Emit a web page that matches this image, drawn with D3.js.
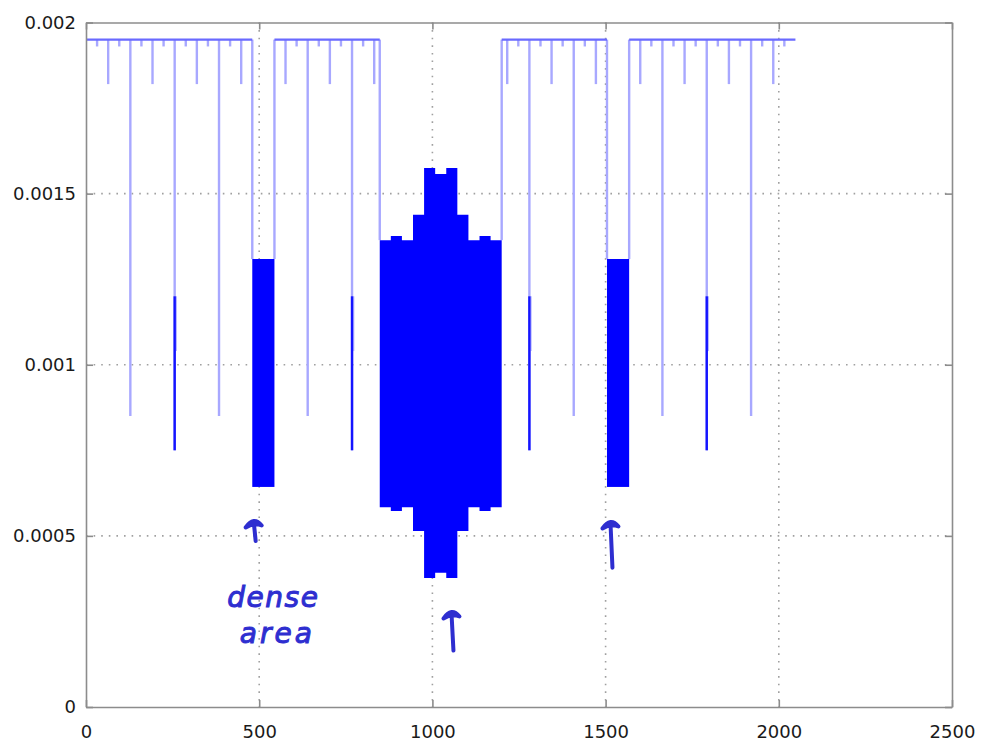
<!DOCTYPE html>
<html>
<head>
<meta charset="utf-8">
<script src="https://cdn.jsdelivr.net/npm/d3@7"></script>
<style>
  body { margin: 0; background: #fff; }
  text { font-family: "DejaVu Sans", sans-serif; }
</style>
</head>
<body>
<div id="chart"></div>
<script>
var svgWidth = 988;
var svgHeight = 750;

var chartMargin = {
  top: 22.5,
  right: 36,
  bottom: 43,
  left: 86
};

var chartWidth = svgWidth - chartMargin.left - chartMargin.right;
var chartHeight = svgHeight - chartMargin.top - chartMargin.bottom;

// axis ticks
var xTicks = [0, 500, 1000, 1500, 2000, 2500];
var xTickLabels = ["0", "500", "1000", "1500", "2000", "2500"];
var yTicks = [0, 0.0005, 0.001, 0.0015, 0.002];
var yTickLabels = ["0", "0.0005", "0.001", "0.0015", "0.002"];

// flat top level of the signal and where it runs
var baseLevel = 0.00195;
var baseStart = [0, 544, 1200, 1568];
var baseEnd = [480, 848, 1504, 2048];

// narrow downward spikes off the flat level
var spikeX = [32, 64, 96, 128, 160, 192, 224, 256, 288, 320, 352, 384, 416, 448,
              576, 608, 640, 672, 704, 736, 768, 800, 832,
              1216, 1248, 1280, 1312, 1344, 1376, 1408, 1440, 1472,
              1600, 1632, 1664, 1696, 1728, 1760, 1792, 1824, 1856, 1888, 1920, 1952, 1984, 2016];
var spikeLow = [0.00193, 0.00182, 0.00193, 0.00085, 0.00193, 0.00182, 0.00193, 0.00075, 0.00193, 0.00182, 0.00193, 0.00085, 0.00193, 0.00182,
                0.00182, 0.00193, 0.00085, 0.00193, 0.00182, 0.00193, 0.00075, 0.00193, 0.00182,
                0.00182, 0.00193, 0.00075, 0.00193, 0.00182, 0.00193, 0.00085, 0.00193, 0.00182,
                0.00182, 0.00193, 0.00085, 0.00193, 0.00182, 0.00193, 0.00075, 0.00193, 0.00182, 0.00193, 0.00085, 0.00193, 0.00182, 0.00193];
// spikes whose lower part is drawn over twice (darker), with a light twin beside
var darkSpikeX = [256, 768, 1280, 1792];
var darkSpikeTop = 0.0012;
var darkSpikeLow = 0.00075;
var twinSpikeLow = 0.00104;

// dense areas: side blocks
var sideBlockStart = [480, 1504];
var sideBlockEnd = [544, 1568];
var sideBlockHigh = 0.001309;
var sideBlockLow = 0.000643;

// dense area in the middle, steps of 32 samples
var midStepX = [848, 880, 912, 944, 976, 1008, 1040, 1072, 1104, 1136, 1168, 1200];
var midHigh = [0.001364, 0.001376, 0.001364, 0.001438, 0.001575, 0.001557, 0.001575, 0.001438, 0.001364, 0.001376, 0.001364];
var midLow = [0.000584, 0.000573, 0.000584, 0.000514, 0.000377, 0.000392, 0.000377, 0.000514, 0.000584, 0.000573, 0.000584];

// hand written notes (data coordinates)
var arrowX = [484, 1055, 1514];
var arrowTip = [0.000548, 0.000282, 0.000545];
var arrowTail = [0.000485, 0.000165, 0.000407];
var noteLines = ["dense", "area"];
var noteX = [408, 444];
var noteY = [0.000292, 0.000188];

var svg = d3.select("#chart")
            .append("svg")
            .attr("width", svgWidth)
            .attr("height", svgHeight);

var chartGroup = svg.append("g")
                    .attr("transform", `translate(${chartMargin.left}, ${chartMargin.top})`);

var xLinearScale = d3.scaleLinear().domain([0, 2500]).range([0, chartWidth]);
var yLinearScale = d3.scaleLinear().domain([0, 0.002]).range([chartHeight, 0]);

// dotted grid
chartGroup.selectAll(".xgrid")
          .data(xTicks.slice(1, -1))
          .enter()
          .append("line")
          .attr("x1", d => xLinearScale(d))
          .attr("x2", d => xLinearScale(d))
          .attr("y1", 0)
          .attr("y2", chartHeight)
          .attr("stroke", "#a0a0a0")
          .attr("stroke-width", 1.6)
          .attr("stroke-dasharray", "1.6,6");

chartGroup.selectAll(".ygrid")
          .data(yTicks.slice(1, -1))
          .enter()
          .append("line")
          .attr("x1", 0)
          .attr("x2", chartWidth)
          .attr("y1", d => yLinearScale(d))
          .attr("y2", d => yLinearScale(d))
          .attr("stroke", "#a0a0a0")
          .attr("stroke-width", 1.6)
          .attr("stroke-dasharray", "1.6,6");

// light spikes
chartGroup.selectAll(".spike")
          .data(spikeX)
          .enter()
          .append("line")
          .attr("x1", d => xLinearScale(d))
          .attr("x2", d => xLinearScale(d))
          .attr("y1", yLinearScale(baseLevel))
          .attr("y2", (d, i) => yLinearScale(spikeLow[i]))
          .attr("stroke", "#a8a8ff")
          .attr("stroke-width", 2.4);

chartGroup.selectAll(".twinspike")
          .data(darkSpikeX)
          .enter()
          .append("line")
          .attr("x1", d => xLinearScale(d) + 1.5)
          .attr("x2", d => xLinearScale(d) + 1.5)
          .attr("y1", yLinearScale(darkSpikeTop))
          .attr("y2", yLinearScale(twinSpikeLow))
          .attr("stroke", "#b8b8ff")
          .attr("stroke-width", 1.6);

chartGroup.selectAll(".darkspike")
          .data(darkSpikeX)
          .enter()
          .append("line")
          .attr("x1", d => xLinearScale(d))
          .attr("x2", d => xLinearScale(d))
          .attr("y1", yLinearScale(darkSpikeTop))
          .attr("y2", yLinearScale(darkSpikeLow))
          .attr("stroke", "#1414ff")
          .attr("stroke-width", 2.4);

// vertical edges from the flat level into the dense blocks
var edgeX = [sideBlockStart[0], sideBlockEnd[0], midStepX[0], midStepX[midStepX.length - 1], sideBlockStart[1], sideBlockEnd[1]];
var edgeY = [sideBlockHigh, sideBlockHigh, midHigh[0], midHigh[midHigh.length - 1], sideBlockHigh, sideBlockHigh];
chartGroup.selectAll(".edge")
          .data(edgeX)
          .enter()
          .append("line")
          .attr("x1", d => xLinearScale(d))
          .attr("x2", d => xLinearScale(d))
          .attr("y1", yLinearScale(baseLevel))
          .attr("y2", (d, i) => yLinearScale(edgeY[i]))
          .attr("stroke", "#a8a8ff")
          .attr("stroke-width", 2.4);

// dense blocks
chartGroup.selectAll(".sideblock")
          .data(sideBlockStart)
          .enter()
          .append("rect")
          .attr("x", d => xLinearScale(d))
          .attr("width", (d, i) => xLinearScale(sideBlockEnd[i]) - xLinearScale(d))
          .attr("y", yLinearScale(sideBlockHigh))
          .attr("height", yLinearScale(sideBlockLow) - yLinearScale(sideBlockHigh))
          .attr("fill", "#0000ff");

var midData = midStepX.map(function(x, i) {
    var j = Math.min(i, midHigh.length - 1);
    return { x: x, hi: midHigh[j], lo: midLow[j] };
});
var midArea = d3.area()
                .curve(d3.curveStepAfter)
                .x(d => xLinearScale(d.x))
                .y0(d => yLinearScale(d.lo))
                .y1(d => yLinearScale(d.hi));
chartGroup.append("path")
          .datum(midData)
          .attr("d", midArea)
          .attr("fill", "#0000ff");

// flat level on top
chartGroup.selectAll(".base")
          .data(baseStart)
          .enter()
          .append("line")
          .attr("x1", d => xLinearScale(d))
          .attr("x2", (d, i) => xLinearScale(baseEnd[i]))
          .attr("y1", yLinearScale(baseLevel))
          .attr("y2", yLinearScale(baseLevel))
          .attr("stroke", "#6a6aff")
          .attr("stroke-width", 2.2);

// frame with inward ticks
var bottomAxis = d3.axisBottom(xLinearScale).tickValues(xTicks).tickSizeInner(-7).tickSizeOuter(0).tickPadding(18)
                   .tickFormat((d, i) => xTickLabels[i]);
var topAxis = d3.axisTop(xLinearScale).tickValues(xTicks).tickSizeInner(-7).tickSizeOuter(0).tickFormat("");
var leftAxis = d3.axisLeft(yLinearScale).tickValues(yTicks).tickSizeInner(-7).tickSizeOuter(0).tickPadding(10)
                 .tickFormat((d, i) => yTickLabels[i]);
var rightAxis = d3.axisRight(yLinearScale).tickValues(yTicks).tickSizeInner(-7).tickSizeOuter(0).tickFormat("");

chartGroup.append("g").attr("transform", `translate(0, ${chartHeight})`).call(bottomAxis);
chartGroup.append("g").call(topAxis);
chartGroup.append("g").call(leftAxis);
chartGroup.append("g").attr("transform", `translate(${chartWidth}, 0)`).call(rightAxis);

chartGroup.selectAll(".domain").attr("stroke", "#8c8c8c").attr("stroke-width", 1.6);
chartGroup.selectAll(".tick line").attr("stroke", "#8c8c8c").attr("stroke-width", 1.6);
chartGroup.selectAll(".tick text")
          .attr("font-family", "DejaVu Sans, sans-serif")
          .attr("font-size", "18px")
          .attr("fill", "#1a1a1a");

// hand written notes
var ink = "#2e2ed0";
chartGroup.selectAll(".arrow")
          .data(arrowX)
          .enter()
          .append("path")
          .attr("d", function(d, i) {
              var x = xLinearScale(d);
              var t = yLinearScale(arrowTip[i]);
              var b = yLinearScale(arrowTail[i]);
              return `M${x - 8},${t + 8} Q${x},${t - 4} ${x + 8},${t + 6} Q${x},${t + 3} ${x - 8},${t + 8} Z` +
                     `M${x},${t + 2} Q${x + 1},${(t + b) / 2} ${x + 2},${b}`;
          })
          .attr("fill", ink)
          .attr("stroke", ink)
          .attr("stroke-width", 4)
          .attr("stroke-linecap", "round")
          .attr("stroke-linejoin", "round");

chartGroup.selectAll(".note")
          .data(noteLines)
          .enter()
          .append("text")
          .attr("x", (d, i) => xLinearScale(noteX[i]))
          .attr("y", (d, i) => yLinearScale(noteY[i]))
          .attr("font-family", "DejaVu Sans, sans-serif")
          .attr("font-style", "italic")
          .attr("font-size", "28px")
          .attr("letter-spacing", (d, i) => i === 0 ? "1.5px" : "3px")
          .attr("fill", ink)
          .attr("stroke", ink)
          .attr("stroke-width", 1)
          .text(d => d);
</script>
</body>
</html>
